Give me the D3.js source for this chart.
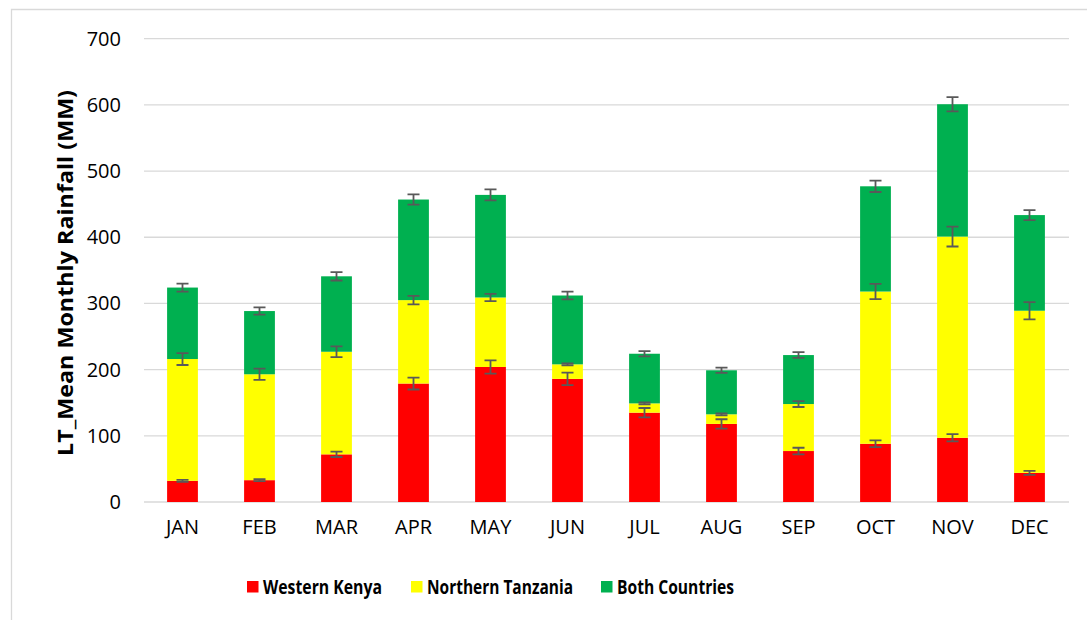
<!DOCTYPE html>
<html lang="en">
<head>
    <meta charset="UTF-8">
    <title></title>
    <style>
        body { margin: 0; background: #fff; }
        text { font-family: "Open Sans", sans-serif; fill: #000; }
    </style>
</head>
<body>
<svg id="chart"></svg>
<script src="https://cdnjs.cloudflare.com/ajax/libs/d3/7.8.5/d3.min.js"></script>
<script>
    var width = 1087;
    var height = 620;

    var months = ["JAN", "FEB", "MAR", "APR", "MAY", "JUN", "JUL", "AUG", "SEP", "OCT", "NOV", "DEC"];
    var seriesNames = ["Western Kenya", "Northern Tanzania", "Both Countries"];
    var seriesColors = ["#ff0000", "#ffff00", "#00b050"];
    var westernKenya = [32, 33, 72, 179, 204, 186, 135, 118, 77, 88, 97, 44];
    var northernTanzania = [184, 160, 155, 126, 105, 22, 14, 14.5, 71, 230, 304, 245];
    var bothCountries = [108, 95.5, 114, 152, 155, 104, 75, 66.5, 74, 159, 200, 144.5];
    // +/- error at the top of each segment
    var errKenya = [1.5, 1.5, 4, 9, 10, 9.5, 7, 7, 5, 5, 5.5, 3];
    var errTanzania = [9, 8.5, 8, 6.5, 5.5, 1.5, 1.5, 1.5, 4.5, 11.5, 15, 13];
    var errBoth = [6, 5.5, 6.3, 7.8, 8.3, 5.8, 4, 4, 4.3, 8.6, 10.8, 7.5];
    var yTicks = [0, 100, 200, 300, 400, 500, 600, 700];

    var errors = [errKenya, errTanzania, errBoth];

    var svg = d3.select("#chart")
        .attr("width", width)
        .attr("height", height);

    // chart frame (only top and left edges show in the picture)
    svg.append("path")
        .attr("d", "M11.5,620V9.5H1087")
        .attr("fill", "none")
        .attr("stroke", "#d9d9d9")
        .attr("stroke-width", 1.3);

    var x = d3.scaleBand()
        .domain(months)
        .range([144, 1068])
        .paddingInner(0.6)
        .paddingOuter(0.3);

    var y = d3.scaleLinear()
        .domain([0, 700])
        .range([502, 38.7]);

    // gridlines
    svg.append("g")
        .selectAll("line")
        .data(yTicks)
        .enter()
        .append("line")
        .attr("x1", 144)
        .attr("x2", 1069)
        .attr("y1", function(d) { return y(d); })
        .attr("y2", function(d) { return y(d); })
        .attr("stroke", "#d9d9d9")
        .attr("stroke-width", 1.3);

    // y axis labels
    var yAxis = d3.axisLeft(y).tickValues(yTicks).tickSize(0).tickPadding(0);
    svg.append("g")
        .attr("transform", "translate(121,0)")
        .call(yAxis)
        .call(function(g) {
            g.select(".domain").remove();
            g.selectAll("text")
                .attr("font-size", 20)
                .attr("font-family", "Open Sans")
                .attr("fill", "#000");
        });

    // x axis labels
    var xAxis = d3.axisBottom(x).tickSize(0).tickPadding(0);
    svg.append("g")
        .attr("transform", "translate(0,520)")
        .call(xAxis)
        .call(function(g) {
            g.select(".domain").remove();
            g.selectAll("text")
                .attr("font-size", 20)
                .attr("font-family", "Open Sans")
                .attr("fill", "#000");
        });

    // stacked segments
    var rows = months.map(function(m, i) {
        return { month: m, s0: westernKenya[i], s1: northernTanzania[i], s2: bothCountries[i] };
    });
    var stack = d3.stack().keys(["s0", "s1", "s2"]);
    var layers = stack(rows);

    svg.append("g")
        .selectAll("g")
        .data(layers)
        .enter()
        .append("g")
        .attr("fill", function(d, i) { return seriesColors[i]; })
        .selectAll("rect")
        .data(function(d) { return d; })
        .enter()
        .append("rect")
        .attr("x", function(d) { return x(d.data.month); })
        .attr("width", x.bandwidth())
        .attr("y", function(d) { return y(d[1]); })
        .attr("height", function(d) { return y(d[0]) - y(d[1]); });

    // error bars
    var errData = [];
    layers.forEach(function(layer, si) {
        layer.forEach(function(d, i) {
            errData.push({ month: d.data.month, top: d[1], e: errors[si][i] });
        });
    });
    var eg = svg.append("g")
        .attr("stroke", "#595959")
        .attr("stroke-width", 1.8)
        .attr("fill", "none");
    var cap = 6;
    eg.selectAll("path")
        .data(errData)
        .enter()
        .append("path")
        .attr("d", function(d) {
            var cx = x(d.month) + x.bandwidth() / 2;
            var y1 = y(d.top + d.e), y2 = y(d.top - d.e);
            return "M" + (cx - cap) + "," + y1 + "H" + (cx + cap) +
                "M" + cx + "," + y1 + "V" + y2 +
                "M" + (cx - cap) + "," + y2 + "H" + (cx + cap);
        });

    // y axis title
    svg.append("text")
        .attr("transform", "translate(73,273) rotate(-90)")
        .attr("text-anchor", "middle")
        .attr("font-size", 22)
        .attr("font-weight", "bold")
        .attr("textLength", 366)
        .attr("lengthAdjust", "spacingAndGlyphs")
        .text("LT_Mean Monthly Rainfall (MM)");

    // legend
    var legendX = [247, 411, 601];
    var legendW = [119, 146, 117];
    var lg = svg.append("g")
        .selectAll("g")
        .data(seriesNames)
        .enter()
        .append("g")
        .attr("transform", function(d, i) { return "translate(" + legendX[i] + ",581)"; });
    lg.append("rect")
        .attr("width", 11.5)
        .attr("height", 11.5)
        .attr("fill", function(d, i) { return seriesColors[i]; });
    lg.append("text")
        .attr("x", 16)
        .attr("y", 13)
        .attr("font-size", 19)
        .attr("font-weight", "bold")
        .attr("textLength", function(d, i) { return legendW[i]; })
        .attr("lengthAdjust", "spacingAndGlyphs")
        .text(function(d) { return d; });
</script>
</body>
</html>
